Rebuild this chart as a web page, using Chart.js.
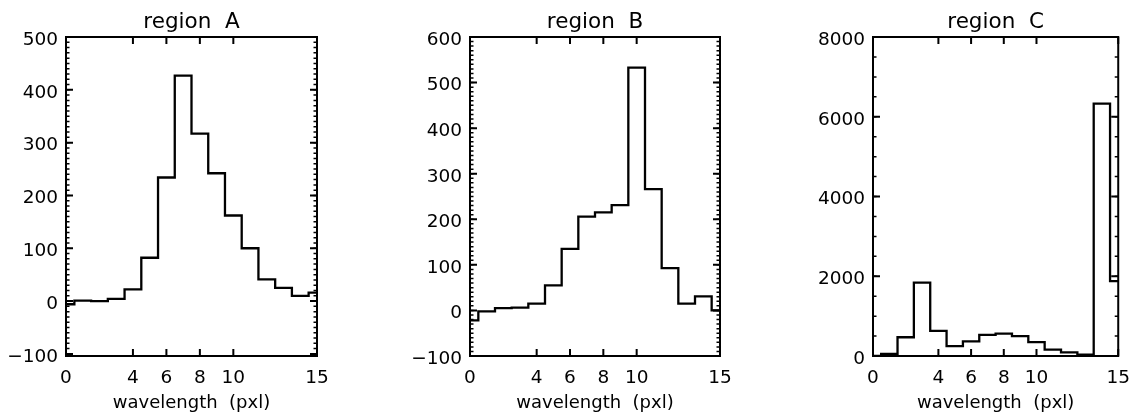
<!DOCTYPE html>
<html>
<head>
<meta charset="utf-8">
<script src="https://cdn.jsdelivr.net/npm/chart.js"></script>
<style>
	body { margin: 0; background: #fff; }
	.panel { position: absolute; top: 0; height: 418px; }
</style>
</head>
<body>
<div class="panel" style="left:0;width:380px"><canvas id="chartA"></canvas></div>
<div class="panel" style="left:380px;width:380px"><canvas id="chartB"></canvas></div>
<div class="panel" style="left:760px;width:381px"><canvas id="chartC"></canvas></div>
<script>
// pixel index along the dispersion direction
var wavelength = [0, 1, 2, 3, 4, 5, 6, 7, 8, 9, 10, 11, 12, 13, 14, 15];

var regionA = [-6, 1, 0, 4, 22, 82, 234, 427, 317, 242, 162, 100, 41, 25, 10, 16];
var regionB = [-22, -2, 5, 6, 15, 55, 135, 206, 215, 231, 533, 266, 93, 15, 31, 0];
var regionC = [0, 50, 470, 1840, 630, 250, 365, 530, 560, 500, 350, 160, 90, 35, 6330, 1880];

var xTicks = [0, 4, 6, 8, 10, 15];
var yTicksA = [-100, 0, 100, 200, 300, 400, 500];
var yTicksB = [-100, 0, 100, 200, 300, 400, 500, 600];
var yTicksC = [0, 2000, 4000, 6000, 8000];

Chart.defaults.font.family = 'DejaVu Sans';
Chart.defaults.color = '#000';

// plain integers, real minus sign, no thousands comma
function idlLabel(v) {
	return String(v).replace('-', '\u2212');
}

// IDL style box: frame + inward ticks on all four sides
var idlAxes = {
	id: 'idlAxes',
	afterDatasetsDraw: function(chart, args, opts) {
		var ctx = chart.ctx;
		var a = chart.chartArea;
		var xs = chart.scales.x;
		var ys = chart.scales.y;
		ctx.save();
		ctx.strokeStyle = '#000';
		ctx.lineWidth = 2;
		ctx.beginPath();
		xs.ticks.forEach(function(t) {
			var px = xs.getPixelForValue(t.value);
			ctx.moveTo(px, a.bottom); ctx.lineTo(px, a.bottom - 7);
			ctx.moveTo(px, a.top); ctx.lineTo(px, a.top + 7);
		});
		ys.ticks.forEach(function(t) {
			var py = ys.getPixelForValue(t.value);
			ctx.moveTo(a.left, py); ctx.lineTo(a.left + 7, py);
			ctx.moveTo(a.right, py); ctx.lineTo(a.right - 7, py);
		});
		ctx.stroke();
		ctx.lineWidth = 1.5;
		ctx.beginPath();
		var step = opts.minorStep;
		for (var v = Math.ceil(ys.min / step) * step; v <= ys.max; v += step) {
			var py = ys.getPixelForValue(v);
			ctx.moveTo(a.left, py); ctx.lineTo(a.left + 3.5, py);
			ctx.moveTo(a.right, py); ctx.lineTo(a.right - 3.5, py);
		}
		ctx.stroke();
		ctx.lineWidth = 2;
		ctx.strokeRect(a.left, a.top, a.right - a.left, a.bottom - a.top);
		ctx.restore();
	}
};

function makeChart(id, title, values, yMin, yMax, yTicks, minorStep, axisWidth, padRight) {
	return new Chart(document.getElementById(id), {
		type: 'line',
		data: {
			datasets: [
				{
					data: wavelength.map(function(x, i) { return { x: x, y: values[i] }; }),
					stepped: 'middle',
					borderColor: '#000',
					borderWidth: 2.3,
					pointRadius: 0,
					fill: false,
				},
			],
		},
		options: {
			responsive: true,
			maintainAspectRatio: false,
			animation: false,
			layout: { padding: { left: 0, right: padRight, top: 0, bottom: 0 } },
			scales: {
				x: {
					type: 'linear',
					min: 0,
					max: 15,
					afterBuildTicks: function(s) { s.ticks = xTicks.map(function(v) { return { value: v }; }); },
					afterFit: function(s) { s.height = 62; },
					grid: { display: false, drawTicks: false },
					border: { display: false },
					ticks: { autoSkip: false, maxRotation: 0, padding: 11, font: { size: 18.5 }, callback: idlLabel },
					title: {
						display: true,
						text: 'wavelength  (pxl)',
						font: { size: 18 },
						padding: { top: 0, bottom: 4 },
					},
				},
				y: {
					min: yMin,
					max: yMax,
					afterBuildTicks: function(s) { s.ticks = yTicks.map(function(v) { return { value: v }; }); },
					afterFit: function(s) { s.width = axisWidth; },
					grid: { display: false, drawTicks: false },
					border: { display: false },
					ticks: { padding: 8, labelOffset: 3, font: { size: 18.5 }, callback: idlLabel },
				},
			},
			plugins: {
				legend: { display: false },
				tooltip: { enabled: false },
				title: {
					display: true,
					text: title,
					fullSize: false,
					font: { size: 21.5, weight: 'normal' },
					padding: { top: 10, bottom: 1.2 },
				},
				idlAxes: { minorStep: minorStep },
			},
		},
		plugins: [idlAxes],
	});
}

makeChart('chartA', 'region  A', regionA, -104, 500, yTicksA, 10, 66, 63);
makeChart('chartB', 'region  B', regionB, -100, 600, yTicksB, 10, 90, 40);
makeChart('chartC', 'region  C', regionC, 0, 8000, yTicksC, 500, 113, 18);
</script>
</body>
</html>
